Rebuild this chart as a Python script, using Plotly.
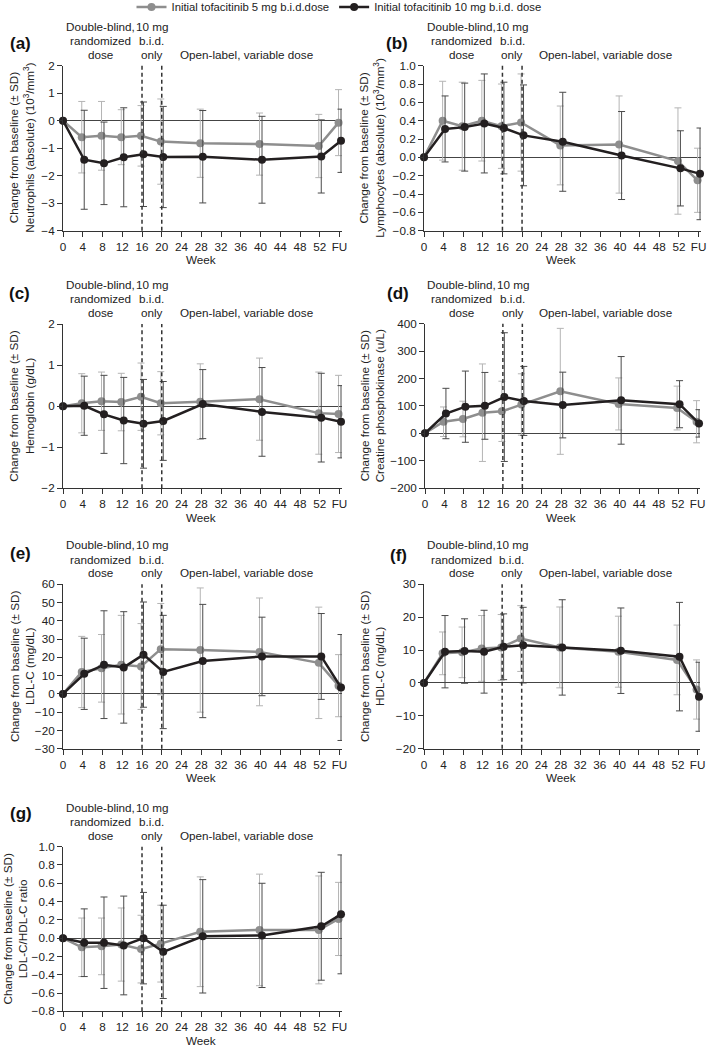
import plotly.graph_objects as go

# ---------------- data ----------------
weeks = [0, 4, 8, 12, 16, 20, 28, 40, 52, 56]
tick_vals = [0, 4, 8, 12, 16, 20, 24, 28, 32, 36, 40, 44, 48, 52, 56]
tick_text = ["0", "4", "8", "12", "16", "20", "24", "28", "32", "36", "40", "44", "48", "52", "FU"]

series_names = ["Initial tofacitinib 5 mg b.i.d.dose", "Initial tofacitinib 10 mg b.i.d. dose"]

# (a) Neutrophils
neut_5 = [0, -0.60, -0.55, -0.60, -0.55, -0.76, -0.82, -0.85, -0.92, -0.07]
neut_5_sd = [0, 1.30, 1.25, 1.00, 1.10, 1.55, 1.24, 1.13, 1.15, 1.20]
neut_10 = [0, -1.42, -1.55, -1.33, -1.22, -1.32, -1.31, -1.42, -1.30, -0.73]
neut_10_sd = [0, 1.80, 1.50, 1.80, 1.90, 1.84, 1.68, 1.58, 1.33, 1.15]

# (b) Lymphocytes
lymph_5 = [0, 0.40, 0.34, 0.40, 0.34, 0.38, 0.13, 0.14, -0.04, -0.25]
lymph_5_sd = [0, 0.43, 0.48, 0.44, 0.46, 0.53, 0.43, 0.53, 0.58, 0.35]
lymph_10 = [0, 0.31, 0.33, 0.37, 0.32, 0.24, 0.17, 0.02, -0.12, -0.18]
lymph_10_sd = [0, 0.36, 0.48, 0.54, 0.50, 0.55, 0.54, 0.48, 0.41, 0.50]

# (c) Hemoglobin
hgb_5 = [0, 0.07, 0.12, 0.10, 0.23, 0.07, 0.11, 0.17, -0.17, -0.19]
hgb_5_sd = [0, 0.72, 0.71, 0.70, 0.82, 0.77, 0.92, 1.00, 1.00, 0.94]
hgb_10 = [0, 0.01, -0.20, -0.35, -0.43, -0.36, 0.05, -0.14, -0.28, -0.38]
hgb_10_sd = [0, 0.72, 0.95, 1.05, 1.08, 0.96, 0.84, 1.08, 1.08, 0.88]

# (d) Creatine phosphokinase
cpk_5 = [0, 42, 52, 75, 80, 105, 153, 107, 92, 42]
cpk_5_sd = [0, 54, 65, 178, 110, 112, 230, 95, 80, 77]
cpk_10 = [0, 72, 97, 100, 132, 118, 103, 120, 106, 36]
cpk_10_sd = [0, 92, 130, 122, 235, 126, 120, 160, 86, 50]

# (e) LDL-C
ldl_5 = [0, 12, 14, 16, 15, 24.5, 24, 23, 17, 4.5]
ldl_5_sd = [0, 19.5, 18.5, 27, 23.5, 25, 34, 29.5, 30.5, 17]
ldl_10 = [0, 11, 16, 14.5, 21.5, 12, 18, 20.5, 20.5, 3.5]
ldl_10_sd = [0, 19.5, 29.5, 30.5, 28.8, 31, 31, 21.5, 23.5, 29]

# (f) HDL-C
hdl_5 = [0, 9.0, 9.3, 10.5, 10.8, 13.5, 10.8, 9.5, 7.0, -2.0]
hdl_5_sd = [0, 6.5, 7.7, 10.0, 10.0, 10.0, 12.3, 10.8, 10.6, 9.0]
hdl_10 = [0, 9.5, 9.7, 9.5, 11.0, 11.5, 10.8, 9.8, 8.0, -4.2]
hdl_10_sd = [0, 11.0, 9.8, 12.6, 10.0, 11.5, 14.5, 13.0, 16.5, 10.5]

# (g) LDL-C/HDL-C ratio
ratio_5 = [0, -0.10, -0.09, -0.07, -0.12, -0.06, 0.07, 0.09, 0.09, 0.21]
ratio_5_sd = [0, 0.32, 0.31, 0.40, 0.37, 0.42, 0.60, 0.61, 0.59, 0.40]
ratio_10 = [0, -0.05, -0.05, -0.08, 0.00, -0.15, 0.02, 0.03, 0.13, 0.26]
ratio_10_sd = [0, 0.37, 0.50, 0.54, 0.50, 0.51, 0.62, 0.57, 0.59, 0.65]

panel_labels = ["(a)", "(b)", "(c)", "(d)", "(e)", "(f)", "(g)"]
y_titles = [
    "Neutrophils (absolute) (10<sup>3</sup>/mm<sup>3</sup>)",
    "Lymphocytes (absolute) (10<sup>3</sup>/mm<sup>3</sup>)",
    "Hemoglobin (g/dL)",
    "Creatine phosphokinase (u/L)",
    "LDL-C (mg/dL)",
    "HDL-C (mg/dL)",
    "LDL-C/HDL-C ratio",
]
y_ranges = [(-4, 2), (-0.8, 1.0), (-2, 2), (-200, 400), (-30, 60), (-20, 30), (-0.8, 1.0)]
y_dticks = [1, 0.2, 1, 100, 10, 10, 0.2]
y_formats = ["d", ".1f", "d", "d", "d", "d", ".1f"]
values_5 = [neut_5, lymph_5, hgb_5, cpk_5, ldl_5, hdl_5, ratio_5]
sds_5 = [neut_5_sd, lymph_5_sd, hgb_5_sd, cpk_5_sd, ldl_5_sd, hdl_5_sd, ratio_5_sd]
values_10 = [neut_10, lymph_10, hgb_10, cpk_10, ldl_10, hdl_10, ratio_10]
sds_10 = [neut_10_sd, lymph_10_sd, hgb_10_sd, cpk_10_sd, ldl_10_sd, hdl_10_sd, ratio_10_sd]

# ---------------- layout geometry (screen pixels) ----------------
W, H = 709, 1045
# (x0 px, x1 px, top px, bottom px, label x px, label y px, ytitle x px)
geom = [
    (63, 342, 65.7, 230.7, 20, 43, 21.5),
    (424, 701, 65.7, 230.7, 396.5, 43, 371.5),
    (63, 342, 324, 488.3, 19, 293, 21.5),
    (425, 700, 323.7, 488, 397.5, 293, 371.5),
    (63, 342, 584.3, 748.7, 20, 553, 21.5),
    (424, 700, 584.3, 748.7, 398, 555, 371.5),
    (63, 342, 846.7, 1011.3, 21, 813, 14.5),
]

def px_x(p):
    return p / W

def px_y(p):
    return 1 - p / H

FONT = "Liberation Sans, Arial, Helvetica, sans-serif"
FS = 11.7
GRAY = "#8e8e8e"
GRAY_ERR = "#b4b4b4"
BLACK = "#231f20"
BLACK_ERR = "#4a4a4a"
AX = "#333333"

fig = go.Figure()
annotations = []
shapes = []

for i in range(7):
    x0, x1, top, bot, lx, ly, tx = geom[i]
    sfx = "" if i == 0 else str(i + 1)
    xa, ya = "x" + sfx, "y" + sfx
    xkey, ykey = "xaxis" + sfx, "yaxis" + sfx

    xs5 = [w - 0.2 if w > 0 else w for w in weeks]
    xs10 = [w + 0.3 if w > 0 else w for w in weeks]

    fig.add_trace(go.Scatter(
        x=xs5, y=values_5[i], mode="lines+markers", name=series_names[0],
        line=dict(color=GRAY, width=2.5), marker=dict(color=GRAY, size=8),
        error_y=dict(type="data", array=sds_5[i], color=GRAY_ERR, thickness=1, width=3.5),
        xaxis=xa, yaxis=ya, showlegend=(i == 0), legendgroup="g5", cliponaxis=False,
    ))
    fig.add_trace(go.Scatter(
        x=xs10, y=values_10[i], mode="lines+markers", name=series_names[1],
        line=dict(color=BLACK, width=2.5), marker=dict(color=BLACK, size=8),
        error_y=dict(type="data", array=sds_10[i], color=BLACK_ERR, thickness=1, width=3.5),
        xaxis=xa, yaxis=ya, showlegend=(i == 0), legendgroup="g10", cliponaxis=False,
    ))

    fig.layout[xkey] = dict(
        domain=[px_x(x0), min(1.0, px_x(x1))], range=[0, 56.5], anchor=ya, automargin=False,
        tickmode="array", tickvals=tick_vals, ticktext=tick_text, ticklabeloverflow="allow",
        showline=True, linecolor=AX, linewidth=1, ticks="outside", ticklen=5,
        tickcolor=AX, tickwidth=1, showgrid=False, zeroline=False,
        tickfont=dict(family=FONT, size=FS, color="#222"),
    )
    yr = y_ranges[i]
    fig.layout[ykey] = dict(
        domain=[px_y(bot), px_y(top)], range=[yr[0], yr[1]], anchor=xa, automargin=False,
        dtick=y_dticks[i], tick0=0, tickformat=y_formats[i], ticklabeloverflow="allow",
        showline=True, linecolor=AX, linewidth=1, ticks="outside", ticklen=5,
        tickcolor=AX, tickwidth=1, showgrid=False,
        zeroline=True, zerolinecolor="#444", zerolinewidth=1.3,
        tickfont=dict(family=FONT, size=FS, color="#222"),
    )

    # dashed phase separators
    for wk in (16, 20):
        shapes.append(dict(type="line", xref=xa, yref=ya + " domain", x0=wk, x1=wk, y0=0, y1=1,
                           line=dict(color=AX, width=1.5, dash="4px,3px"), layer="above"))

    # panel label
    annotations.append(dict(text="<b>" + panel_labels[i] + "</b>", xref="paper", yref="paper",
                            x=px_x(lx), y=px_y(ly), xanchor="center", yanchor="middle",
                            showarrow=False, font=dict(family=FONT, size=17, color="#111")))
    # phase text
    col1 = ["Double-blind,", "randomized", "dose"]
    col2 = ["10 mg", "b.i.d.", "only"]
    offs = [39.5, 25, 11.5]
    for j in range(3):
        annotations.append(dict(text=col1[j], xref=xa, yref="paper", x=7.6, y=px_y(top - offs[j]),
                                xanchor="center", yanchor="middle", showarrow=False,
                                font=dict(family=FONT, size=FS, color="#222")))
        annotations.append(dict(text=col2[j], xref=xa, yref="paper", x=18.0, y=px_y(top - offs[j]),
                                xanchor="center", yanchor="middle", showarrow=False,
                                font=dict(family=FONT, size=FS, color="#222")))
    annotations.append(dict(text="Open-label, variable dose", xref=xa, yref="paper", x=37.1,
                            y=px_y(top - offs[2]), xanchor="center", yanchor="middle",
                            showarrow=False, font=dict(family=FONT, size=FS, color="#222")))
    # x title
    annotations.append(dict(text="Week", xref=xa, yref="paper", x=28, y=px_y(bot + 29),
                            xanchor="center", yanchor="middle", showarrow=False,
                            font=dict(family=FONT, size=FS, color="#222")))
    # y title
    annotations.append(dict(text="Change from baseline (± SD)<br>" + y_titles[i], xref="paper",
                            yref="paper", x=px_x(tx), y=px_y((top + bot) / 2), textangle=-90,
                            xanchor="center", yanchor="middle", showarrow=False,
                            font=dict(family=FONT, size=FS, color="#222")))

fig.update_layout(
    width=W, height=H, margin=dict(l=0, r=0, t=0, b=0, autoexpand=False),
    paper_bgcolor="white", plot_bgcolor="white",
    font=dict(family=FONT, size=FS, color="#222"),
    annotations=annotations, shapes=shapes,
    legend=dict(orientation="h", x=px_x(339), xanchor="center", y=px_y(7), yanchor="middle",
                font=dict(family=FONT, size=11.3, color="#222"), bgcolor="rgba(0,0,0,0)",
                itemwidth=30, tracegroupgap=0),
)

fig.write_html("out.html", config={"displayModeBar": False},
               post_script="document.body.style.margin='0';document.body.style.overflow='hidden';")
